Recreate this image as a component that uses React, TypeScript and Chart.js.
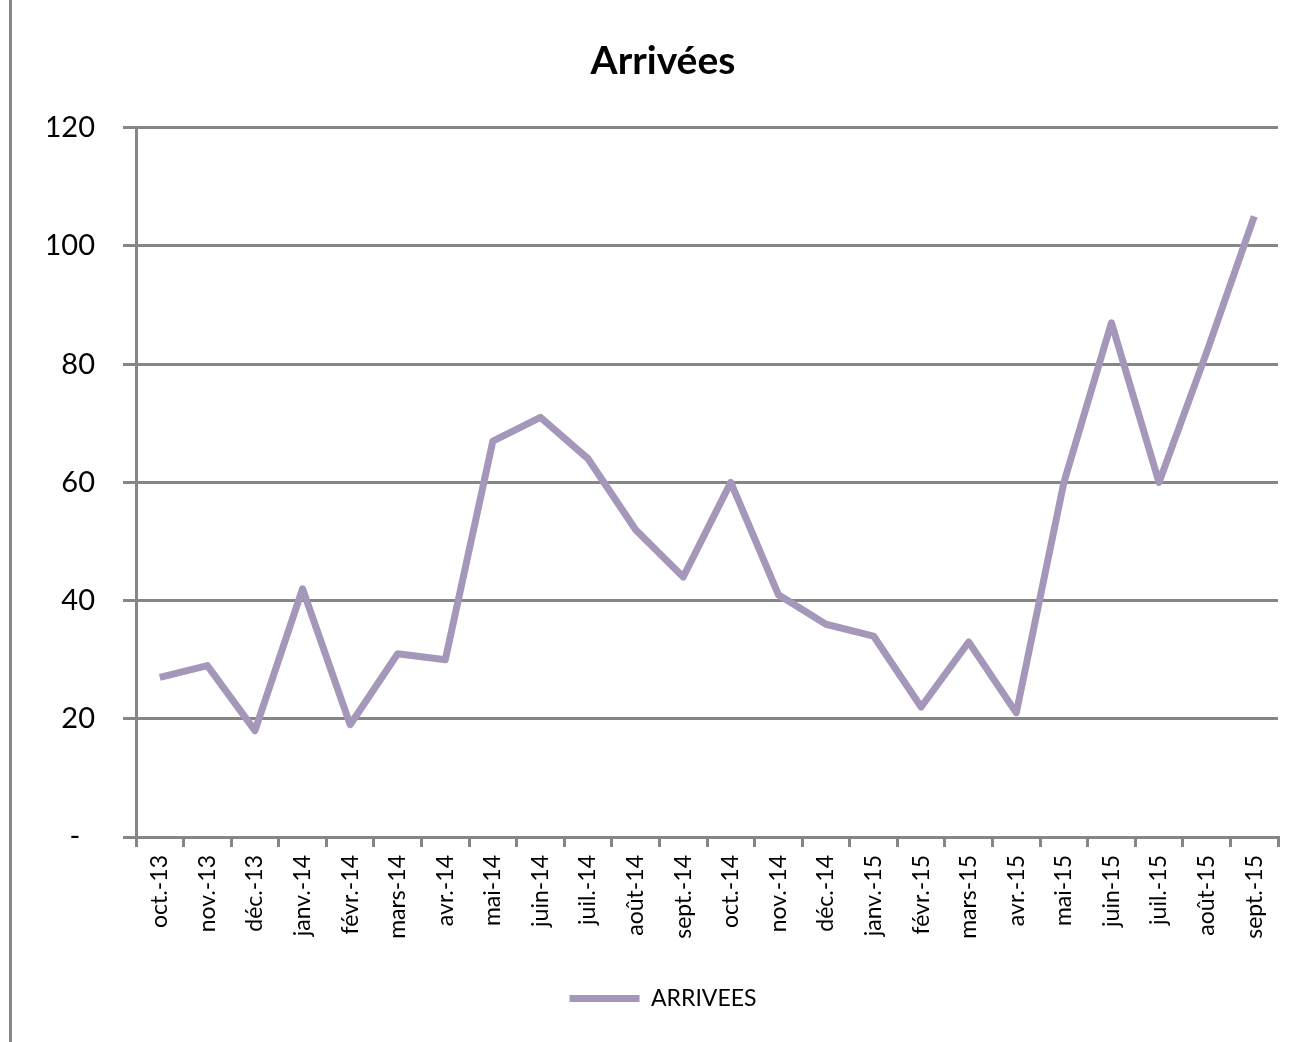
import React, { useEffect, useRef } from "react";
import { Chart, registerables } from "chart.js";

Chart.register(...registerables);

const title = "Arrivées";
const seriesName = "ARRIVEES";
const categories = [
  "oct.-13", "nov.-13", "déc.-13", "janv.-14", "févr.-14", "mars-14",
  "avr.-14", "mai-14", "juin-14", "juil.-14", "août-14", "sept.-14",
  "oct.-14", "nov.-14", "déc.-14", "janv.-15", "févr.-15", "mars-15",
  "avr.-15", "mai-15", "juin-15", "juil.-15", "août-15", "sept.-15",
];
const arrivees = [
  27, 29, 18, 42, 19, 31, 30, 67, 71, 64, 52, 44,
  60, 41, 36, 34, 22, 33, 21, 60, 87, 60, 82, 105,
];
const yMin = 0;
const yMax = 120;
const yStep = 20;

const LINE_COLOR = "#A597B9";
const GRID_COLOR = "#868686";

export default function App() {
  const canvasRef = useRef<HTMLCanvasElement | null>(null);

  useEffect(() => {
    const canvas = canvasRef.current;
    if (!canvas) return;
    const chart = new Chart(canvas, {
      type: "line",
      data: {
        labels: categories,
        datasets: [
          {
            label: seriesName,
            data: arrivees,
            borderColor: LINE_COLOR,
            backgroundColor: LINE_COLOR,
            borderWidth: 7,
            pointRadius: 0,
            pointHoverRadius: 0,
            tension: 0,
            borderJoinStyle: "round",
            pointStyle: "line",
          },
        ],
      },
      options: {
        responsive: true,
        maintainAspectRatio: false,
        animation: false,
        layout: { padding: { left: 48, right: 21, top: 0, bottom: 22 } },
        plugins: {
          tooltip: { enabled: false },
          title: {
            display: true,
            text: title,
            color: "#000",
            font: { family: "Lato", size: 39, weight: "bold", lineHeight: 1.2 },
            padding: { top: 38, bottom: 43 },
          },
          legend: {
            display: true,
            position: "bottom",
            labels: {
              color: "#000",
              font: { family: "Lato", size: 23 },
              usePointStyle: true,
              pointStyle: "line",
              pointStyleWidth: 70,
              padding: 10,
            },
          },
        },
        scales: {
          x: {
            offset: true,
            grid: {
              offset: true,
              drawOnChartArea: false,
              drawTicks: true,
              tickLength: 10,
              color: GRID_COLOR,
              lineWidth: 3,
            },
            border: { display: true, color: GRID_COLOR, width: 3 },
            ticks: {
              color: "#000",
              font: { family: "Lato", size: 23 },
              minRotation: 90,
              maxRotation: 90,
              autoSkip: false,
              padding: 8,
            },
            afterFit: (scale: any) => {
              scale.height = 140;
            },
          },
          y: {
            min: yMin,
            max: yMax,
            grid: {
              color: GRID_COLOR,
              lineWidth: 3,
              drawTicks: true,
              tickLength: 13,
            },
            border: { display: true, color: GRID_COLOR, width: 3 },
            ticks: {
              stepSize: yStep,
              color: "#000",
              font: { family: "Lato", size: 29 },
              padding: 28,
              callback: (v: any) => (Number(v) === 0 ? "-  " : String(v)),
            },
            afterFit: (scale: any) => {
              scale.width = 88;
            },
          },
        },
      },
    });
    return () => chart.destroy();
  }, []);

  return (
    <div
      style={{
        position: "fixed",
        left: 0,
        top: 0,
        width: 1299,
        height: 1042,
        background: "#fff",
      }}
    >
      <div
        style={{
          position: "absolute",
          left: 9,
          top: 0,
          width: 3,
          height: 1042,
          background: "#878787",
        }}
      />
      <canvas ref={canvasRef} />
    </div>
  );
}
